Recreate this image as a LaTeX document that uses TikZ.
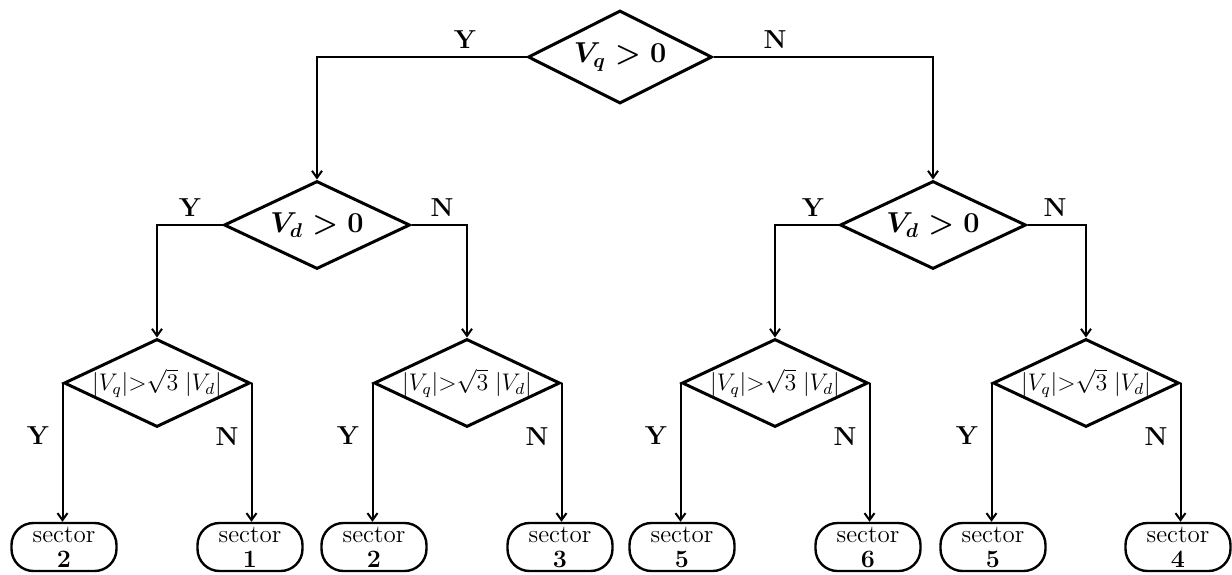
\documentclass[tikz,border=0pt]{standalone}
\usetikzlibrary{shapes.geometric,arrows.meta}
\begin{document}
\begin{tikzpicture}[x=0.5pt,y=-0.5pt,
  dia/.style={diamond,draw,line width=1.5pt,inner sep=0pt,minimum width=93pt,minimum height=44pt},
  dtop/.style={dia,minimum width=92pt,minimum height=46.5pt},
  bigtxt/.style={font=\fontsize{14}{14}\selectfont\boldmath},
  smtxt/.style={font=\fontsize{11.5}{11.5}\selectfont},
  sbox/.style={draw,line width=1.2pt,rounded corners=11pt,minimum width=52.5pt,minimum height=24pt,
    inner sep=0pt,align=center,font=\fontsize{12.5}{12.5}\selectfont},
  conn/.style={line width=1pt,-{Straight Barb[length=3.5pt,width=5pt]}},
  lab/.style={font=\fontsize{13}{13}\selectfont\bfseries}]
\useasboundingbox[fill=white] (0,0) rectangle (1232,574);
% decision nodes
\node[dtop,bigtxt] (d0) at (620,57) {\makebox[0pt]{$V_q > 0$}};
\node[dia,bigtxt] (d1) at (317,225) {\makebox[0pt]{$V_d > 0$}};
\node[dia,bigtxt] (d2) at (933,225) {\makebox[0pt]{$V_d > 0$}};
\node[dia,smtxt] (d3a) at (157,383) {\makebox[0pt]{\raisebox{2pt}{$|V_q|{>}\sqrt{3}\;|V_d|$}}};
\node[dia,smtxt] (d3b) at (467,383) {\makebox[0pt]{\raisebox{2pt}{$|V_q|{>}\sqrt{3}\;|V_d|$}}};
\node[dia,smtxt] (d3c) at (775,383) {\makebox[0pt]{\raisebox{2pt}{$|V_q|{>}\sqrt{3}\;|V_d|$}}};
\node[dia,smtxt] (d3d) at (1086,383) {\makebox[0pt]{\raisebox{2pt}{$|V_q|{>}\sqrt{3}\;|V_d|$}}};
% terminal boxes
\node[sbox] (b1) at (64,547) {sector\\\textbf{2}};
\node[sbox] (b2) at (250,547) {sector\\\textbf{1}};
\node[sbox] (b3) at (374,547) {sector\\\textbf{2}};
\node[sbox] (b4) at (560,547) {sector\\\textbf{3}};
\node[sbox] (b5) at (682,547) {sector\\\textbf{5}};
\node[sbox] (b6) at (868,547) {sector\\\textbf{6}};
\node[sbox] (b7) at (993,547) {sector\\\textbf{5}};
\node[sbox] (b8) at (1178,547) {sector\\\textbf{4}};
% connectors
\draw[conn] (d0.west) -| (d1.north);
\draw[conn] (d0.east) -| (d2.north);
\draw[conn] (d1.west) -| (d3a.north);
\draw[conn] (d1.east) -| (d3b.north);
\draw[conn] (d2.west) -| (d3c.north);
\draw[conn] (d2.east) -| (d3d.north);
\draw[conn] (d3a.west) -- (d3a.west |- b1.north);
\draw[conn] (d3a.east) -- (d3a.east |- b2.north);
\draw[conn] (d3b.west) -- (d3b.west |- b3.north);
\draw[conn] (d3b.east) -- (d3b.east |- b4.north);
\draw[conn] (d3c.west) -- (d3c.west |- b5.north);
\draw[conn] (d3c.east) -- (d3c.east |- b6.north);
\draw[conn] (d3d.west) -- (d3d.west |- b7.north);
\draw[conn] (d3d.east) -- (d3d.east |- b8.north);
% labels
\node[lab] (y0) at (465,40) {Y};
\node[lab] (n0) at (775,40) {N};
\node[lab] (y1) at (190,208) {Y};
\node[lab] (n1) at (442,208) {N};
\node[lab] (y2) at (813,208) {Y};
\node[lab] (n2) at (1055,208) {N};
\node[lab] (y3a) at (38,436) {Y};
\node[lab] (n3a) at (227,437) {N};
\node[lab] (y3b) at (348,436) {Y};
\node[lab] (n3b) at (537,437) {N};
\node[lab] (y3c) at (656,436) {Y};
\node[lab] (n3c) at (845,437) {N};
\node[lab] (y3d) at (967,436) {Y};
\node[lab] (n3d) at (1156,437) {N};
\end{tikzpicture}
\end{document}
